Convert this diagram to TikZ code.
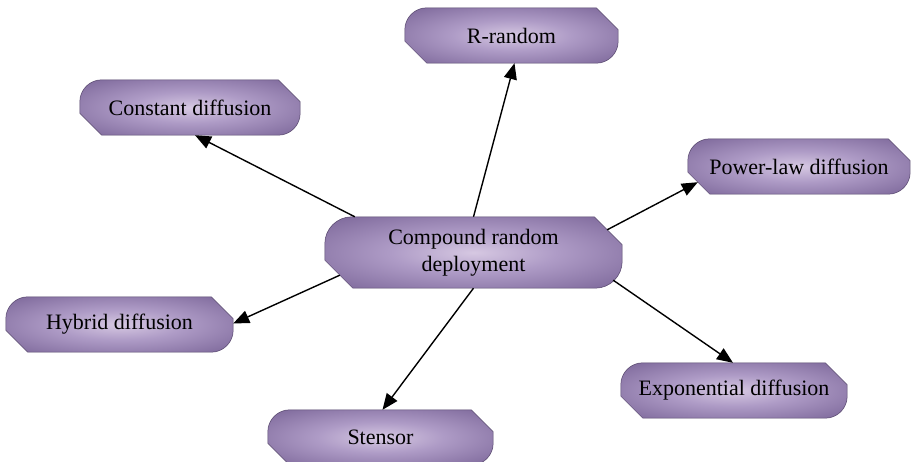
\documentclass[tikz,border=0pt]{standalone}
\usepackage{fontspec}
\setmainfont{Liberation Serif}
\usetikzlibrary{calc,arrows.meta,backgrounds}
\definecolor{shA}{HTML}{D6C8E2}
\definecolor{shB}{HTML}{AE9BC6}
\definecolor{shC}{HTML}{7F6A9C}
\definecolor{shD}{HTML}{5C4A76}
\definecolor{edgecol}{HTML}{54446A}
\pgfdeclareradialshading{boxshade}{\pgfpoint{0bp}{0bp}}{color(0bp)=(shA); color(14bp)=(shB); color(34bp)=(shC); color(47bp)=(shD); color(80bp)=(shD)}
\newcommand\boxshape[3]{%
  \path[shade,shading=boxshade,draw=edgecol,line width=0.5pt]
  let \p1=(#1.south west),\p2=(#1.north east) in
  (\x1,\y1+#2) -- (\x1,\y2-#3) arc[start angle=180,end angle=90,radius=#3]
  -- (\x2-#2,\y2) -- (\x2,\y2-#2) -- (\x2,\y1+#3)
  arc[start angle=0,end angle=-90,radius=#3] -- (\x1+#2,\y1) -- cycle;}
\tikzset{
  lbl/.style={font=\fontsize{22}{27}\selectfont, inner sep=0pt, align=center, minimum height=55pt},
  arr/.style={line width=1.4pt, -{Triangle[length=16pt,width=13pt]}}
}
\begin{document}
\begin{tikzpicture}[x=1pt,y=1pt]
\clip (0,0) rectangle (911,461);
\node[lbl, minimum width=297pt, minimum height=71pt] (c) at (473.5,208.5) {Compound random\\deployment};
\node[lbl, minimum width=213pt] (rr) at (511.5,425.5) {R-random};
\node[lbl, minimum width=220pt] (cd) at (190,353.5) {Constant diffusion};
\node[lbl, minimum width=227pt] (hd) at (119.5,136.5) {Hybrid diffusion};
\node[lbl, minimum width=222pt] (pd) at (799,294.5) {Power-law diffusion};
\node[lbl, minimum width=226pt] (ed) at (734,70.5) {Exponential diffusion};
\node[lbl, minimum width=225pt] (st) at (380.5,23.5) {Stensor};
\begin{pgfonlayer}{background}
\fill[white] (0,0) rectangle (911,461);
\boxshape{c}{28pt}{27pt}
\boxshape{rr}{22pt}{22pt}
\boxshape{cd}{22pt}{22pt}
\boxshape{hd}{22pt}{22pt}
\boxshape{pd}{22pt}{22pt}
\boxshape{ed}{22pt}{22pt}
\boxshape{st}{22pt}{22pt}
\end{pgfonlayer}
\draw[arr] ([xshift=30pt]c.north west) -- ([xshift=5pt]cd.south);
\draw[arr] (c.north) -- ([xshift=3pt]rr.south);
\draw[arr] ([xshift=-15pt,yshift=-13pt]c.north east) -- ([xshift=10pt,yshift=12pt]pd.south west);
\draw[arr] ([xshift=15pt,yshift=13pt]c.south west) -- ([yshift=1pt]hd.east);
\draw[arr] ([xshift=-9pt,yshift=8pt]c.south east) -- ([xshift=-1pt]ed.north);
\draw[arr] (c.south) -- ([xshift=2pt]st.north);
\end{tikzpicture}
\end{document}
